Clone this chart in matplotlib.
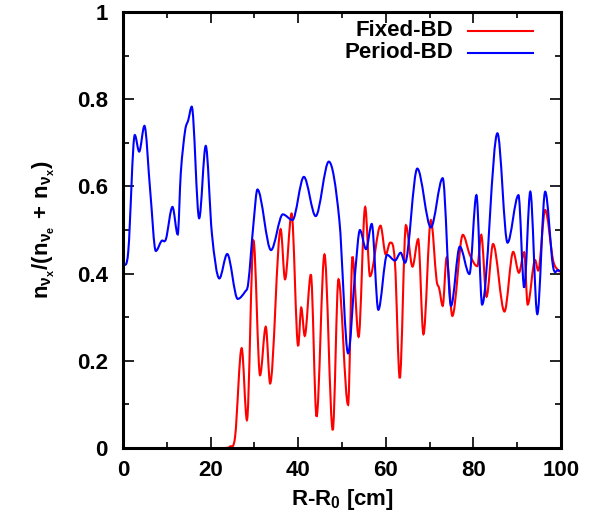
import matplotlib
matplotlib.use("Agg")
import matplotlib.pyplot as plt
import numpy as np
from matplotlib.path import Path
from matplotlib.patches import PathPatch
from matplotlib.ticker import MultipleLocator

plt.rcParams['font.family'] = ['Liberation Sans', 'DejaVu Sans']
plt.rcParams['font.weight'] = 'bold'
plt.rcParams['mathtext.fontset'] = 'custom'
plt.rcParams['mathtext.rm'] = 'Liberation Sans:bold'
plt.rcParams['mathtext.bf'] = 'Liberation Sans:bold'
plt.rcParams['mathtext.it'] = 'Liberation Sans:bold'
plt.rcParams['mathtext.default'] = 'bf'

# values (extrema and shoulders); red is 0 before x~24
fixed_x = [23.5, 24.4, 25.6, 27.1, 28.3, 29.8, 31.3, 32.6, 33.6, 36.0, 37.0,
           38.5, 40.0, 40.7, 41.5, 42.9, 44.2, 46.0, 47.9, 49.2, 51.4, 52.4,
           53.8, 55.3, 56.4, 58.8, 60.0, 61.0, 62.1, 63.2, 64.6, 66.1, 67.4,
           68.6, 70.3, 71.6, 72.2, 73.0, 73.9, 75.2, 77.6, 79.2, 80.9, 81.8,
           83.0, 84.5, 87.1, 89.1, 90.4, 91.6, 92.4, 94.1, 94.8, 96.4, 98.2,
           99.4, 100]
fixed_y = [0, 0.003, 0.026, 0.229, 0.064, 0.476, 0.167, 0.278, 0.148, 0.502,
           0.387, 0.538, 0.234, 0.322, 0.257, 0.398, 0.072, 0.444, 0.041, 0.387,
           0.099, 0.439, 0.255, 0.553, 0.394, 0.510, 0.444, 0.471, 0.425, 0.160,
           0.511, 0.416, 0.479, 0.261, 0.523, 0.385, 0.366, 0.326, 0.437, 0.303,
           0.489, 0.443, 0.417, 0.489, 0.347, 0.468, 0.313, 0.450, 0.402, 0.449,
           0.329, 0.431, 0.407, 0.546, 0.431, 0.407, 0.405]

period_x = [0, 1.2, 2.7, 3.7, 4.9, 6.2, 7.5, 8.8, 9.8, 11.3, 12.5, 13.2, 14.2,
            14.9, 15.7, 17.4, 18.9, 20.3, 22.0, 23.8, 26.2, 27.9, 28.6, 29.8,
            30.7, 33.8, 36.5, 38.7, 41.3, 44.0, 47.0, 49.4, 51.4, 53.0, 54.1,
            55.5, 56.8, 58.3, 60.3, 62.1, 63.4, 64.4, 67.2, 70.3, 73.0, 74.9,
            76.9, 79.1, 80.7, 82.0, 85.5, 87.8, 90.3, 91.6, 93.0, 94.6, 96.4,
            98.2, 99.4, 100]
period_y = [0.416, 0.450, 0.718, 0.680, 0.739, 0.592, 0.452, 0.475, 0.479,
            0.553, 0.490, 0.631, 0.729, 0.752, 0.783, 0.527, 0.693, 0.492,
            0.389, 0.445, 0.342, 0.359, 0.378, 0.515, 0.593, 0.454, 0.536,
            0.523, 0.622, 0.532, 0.657, 0.523, 0.217, 0.401, 0.500, 0.456,
            0.514, 0.317, 0.443, 0.430, 0.448, 0.425, 0.641, 0.506, 0.619,
            0.326, 0.462, 0.399, 0.580, 0.329, 0.722, 0.471, 0.580, 0.368,
            0.588, 0.307, 0.588, 0.416, 0.408, 0.405]


def smooth_path(xs, ys):
    # cubic Bezier through every point, flat tangent at local extrema
    xs = np.asarray(xs, float)
    ys = np.asarray(ys, float)
    n = len(xs)
    m = np.zeros(n)
    for i in range(n):
        if i == 0:
            m[i] = (ys[1] - ys[0]) / (xs[1] - xs[0])
        elif i == n - 1:
            m[i] = (ys[-1] - ys[-2]) / (xs[-1] - xs[-2])
        elif (ys[i] - ys[i-1]) * (ys[i+1] - ys[i]) <= 0:
            m[i] = 0.0
        else:
            m[i] = (ys[i+1] - ys[i-1]) / (xs[i+1] - xs[i-1])
    verts = [(xs[0], ys[0])]
    codes = [Path.MOVETO]
    for i in range(n - 1):
        h = xs[i+1] - xs[i]
        verts += [(xs[i] + h/3, ys[i] + m[i]*h/3),
                  (xs[i+1] - h/3, ys[i+1] - m[i+1]*h/3),
                  (xs[i+1], ys[i+1])]
        codes += [Path.CURVE4] * 3
    return Path(verts, codes)


fig = plt.figure(figsize=(6.1, 5.22), dpi=100)
ax = fig.add_axes([0.2016, 0.1418, 0.718, 0.835])

ax.add_patch(PathPatch(smooth_path(fixed_x, fixed_y), fill=False,
                       edgecolor='#ff0000', lw=1.5, zorder=2.0))
ax.add_patch(PathPatch(smooth_path(period_x, period_y), fill=False,
                       edgecolor='#0000ff', lw=1.5, zorder=2.1))

ax.set_xlim(0, 100)
ax.set_ylim(0, 1)
ax.xaxis.set_major_locator(MultipleLocator(20))
ax.xaxis.set_minor_locator(MultipleLocator(10))
ax.yaxis.set_major_locator(MultipleLocator(0.2))
ax.yaxis.set_minor_locator(MultipleLocator(0.1))
ax.set_yticks([0, 0.2, 0.4, 0.6, 0.8, 1.0], ['0', '0.2', '0.4', '0.6', '0.8', '1'])
ax.tick_params(which='both', direction='in', top=True, right=True,
               labelsize=16, width=1.2)
ax.tick_params(which='major', length=8)
ax.tick_params(which='minor', length=4)
ax.tick_params(axis='x', pad=9)
ax.tick_params(axis='y', pad=11)
for s in ax.spines.values():
    s.set_linewidth(2.2)
    s.set_zorder(3)

ax.set_xlabel(r'R-R$_{0}$ [cm]', fontsize=16, fontweight='bold', labelpad=4)
ax.set_ylabel(r'$n_{\nu_x}/(n_{\nu_e}\,+\,n_{\nu_x})$', fontsize=16, labelpad=14)

# key, drawn in axes fractions like the gnuplot one
ax.text(0.753, 0.957, 'Fixed-BD', ha='right', va='center', fontsize=16,
        fontweight='bold', transform=ax.transAxes)
ax.plot([0.788, 0.936], [0.957, 0.957], color='#ff0000', lw=1.5,
        transform=ax.transAxes)
ax.text(0.753, 0.907, 'Period-BD', ha='right', va='center', fontsize=16,
        fontweight='bold', transform=ax.transAxes)
ax.plot([0.788, 0.936], [0.907, 0.907], color='#0000ff', lw=1.5,
        transform=ax.transAxes)

fig.savefig('out.png', dpi=100)
